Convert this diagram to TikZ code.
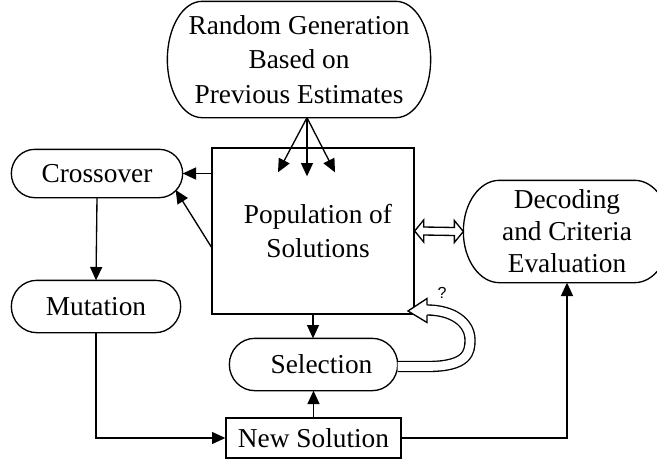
\documentclass[tikz,border=0pt]{standalone}
\usepackage{fontspec}
\setmainfont{Liberation Serif}
\newfontfamily\qfont{Liberation Sans}
\usetikzlibrary{arrows.meta,calc}
\newcommand\termoutline[2]{%
\draw let \p1=(#1.south west), \p2=(#1.north east), \n1={#2}, \n2={(\y2-\y1)/2}, \n3={0.5523*#2}, \n4={0.5523*(\y2-\y1)/2} in
(\x1+\n1,\y2) -- (\x2-\n1,\y2)
.. controls (\x2-\n1+\n3,\y2) and (\x2,\y2-\n2+\n4) .. (\x2,\y2-\n2)
.. controls (\x2,\y1+\n2-\n4) and (\x2-\n1+\n3,\y1) .. (\x2-\n1,\y1)
-- (\x1+\n1,\y1)
.. controls (\x1+\n1-\n3,\y1) and (\x1,\y1+\n2-\n4) .. (\x1,\y1+\n2)
.. controls (\x1,\y2-\n2+\n4) and (\x1+\n1-\n3,\y2) .. cycle;}
\begin{document}
\begin{tikzpicture}[x=0.75pt,y=-0.75pt,line width=1pt,
  >={Triangle[length=10pt,width=9pt]},
  term/.style={rectangle,draw=none,inner sep=0pt,align=center,font=\fontsize{20.5}{25.9}\selectfont},
  boxnode/.style={rectangle,draw,inner sep=0pt,align=center,font=\fontsize{20.5}{25.9}\selectfont},
  flow/.style={->}]
\path[use as bounding box] (0,0) rectangle (657,461);
\clip (0,0) rectangle (657,461);

% nodes
\node[term,minimum width=196.5pt,minimum height=86.25pt] (rand) at (299,59.5) {Random Generation\\Based on\\Previous Estimates};
\node[boxnode,minimum width=151.5pt,minimum height=124.5pt] (pop) at (313,231) {\hspace*{7.5pt}Population of\\\hspace*{7.5pt}Solutions};
\node[term,minimum width=127.5pt,minimum height=35.25pt] (cross) at (97,173.5) {Crossover};
\node[term,minimum width=126pt,minimum height=38.25pt] (mut) at (96,306.5) {Mutation};
\node[term,minimum width=125.25pt,minimum height=38.25pt] (sel) at (313.5,364.5) {\hspace*{12pt}Selection};
\node[boxnode,minimum width=131.25pt,minimum height=30pt] (newsol) at (313.5,438) {New Solution};
\node[term,minimum width=154.5pt,minimum height=75.75pt,font=\fontsize{20.5}{24}\selectfont] (dec) at (567,231.5) {Decoding\\and Criteria\\Evaluation};
\node[font=\qfont\fontsize{12}{12}\selectfont,inner sep=0pt] (q) at (442,293) {?};

\termoutline{rand}{26pt}
\termoutline{cross}{17.6pt}
\termoutline{mut}{19.1pt}
\termoutline{sel}{19.1pt}
\termoutline{dec}{27pt}

% fan arrows
\coordinate (fan) at ($(rand.south)+(8,0)$);
\coordinate (t1) at ($(pop.north)+(-35,25)$);
\coordinate (t2) at ($(pop.north)+(-6,29)$);
\coordinate (t3) at ($(pop.north)+(22,25)$);
\draw[flow] (fan) -- (t1);
\draw[flow] (fan) -- (t2);
\draw[flow] (fan) -- (t3);

% to crossover
\draw[flow] (cross.east -| pop.west) -- (cross.east);
\coordinate (cr2) at ($(cross.east)+(-7,16.5)$);
\draw[flow] ($(pop.west)+(0,16)$) -- (cr2);
\draw[flow] (cross.south) -- (mut.north);
\draw[flow] (mut.south) |- (newsol.west);
\draw[flow] (newsol.north) -- (sel.south);
\draw[flow] (pop.south) -- (pop.south |- sel.north);
\draw[flow] (newsol.east) -| (dec.south);

% hollow double arrow
\draw[fill=white,line join=miter] (pop.east) -- ++(9,-11) -- ++(0,7) -- ($(dec.west)+(-9,-4)$) -- ++(0,-7) -- (dec.west) -- ++(-9,11) -- ++(0,-7) -- ($(pop.east)+(9,4)$) -- ++(0,7) -- cycle;

% hollow curved arrow
\coordinate (qtip) at (408,311);
\coordinate (qbase) at ($(qtip)+(19,-1)$);
\coordinate (qs) at ($(sel.east)+(0,2)$);
\draw[line width=8.5pt] (qs) -- ++(30,0) .. controls (468,366.5) and (470,352) .. (470,340) .. controls (470,322) and (452,310) .. (qbase);
\draw[line width=6.5pt,white] (qs) -- ++(30,0) .. controls (468,366.5) and (470,352) .. (470,340) .. controls (470,322) and (452,310) .. (qbase);
\fill[white] ($(qbase)+(0,-11.5)$) -- (qtip) -- ($(qbase)+(0,12.5)$) -- cycle;
\draw[line join=miter] ($(qbase)+(0,-5)$) -- ($(qbase)+(0,-11.5)$) -- (qtip) -- ($(qbase)+(0,12.5)$) -- ($(qbase)+(0,5)$);
\end{tikzpicture}
\end{document}
